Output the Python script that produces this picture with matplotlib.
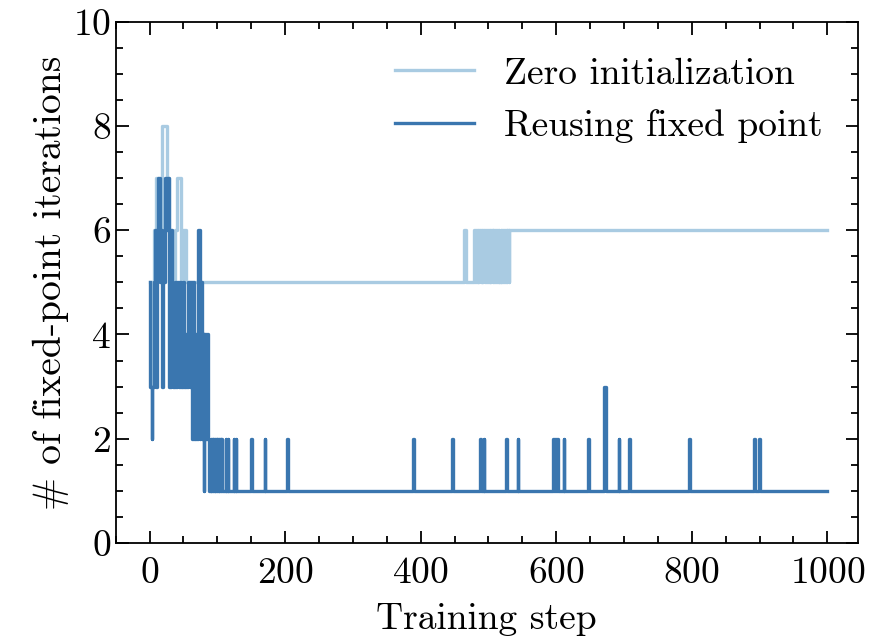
import numpy as np
import matplotlib
matplotlib.use("Agg")
import matplotlib.pyplot as plt
from matplotlib.ticker import MultipleLocator

# === data: (start step, value) runs ===
zero_starts = [0, 2, 4, 6, 9, 13, 19, 25, 28, 33, 38, 41, 46, 50, 54, 62, 64,
               464, 467, 478, 480, 481, 483, 484, 485, 486, 489, 490, 491, 492,
               495, 497, 498, 499, 501, 502, 503, 504, 506, 507, 508, 510, 511,
               512, 514, 515, 516, 518, 519, 520, 522, 523, 524, 526, 527, 528,
               530, 531, 534]
zero_values = [5, 3, 5, 6, 7, 6, 8, 7, 6, 5, 6, 7, 5, 6, 5, 4, 5,
               6, 5, 6, 5, 6, 5, 6, 5, 6, 5, 6, 5, 6,
               5, 6, 5, 6, 5, 6, 5, 6, 5, 6, 5, 6, 5,
               6, 5, 6, 5, 6, 5, 6, 5, 6, 5, 6, 5, 6,
               5, 6, 6]

reuse_starts = [0, 1, 3, 4, 6, 8, 10, 11, 13, 15, 17, 19, 20, 22, 24, 26, 28,
                29, 31, 33, 35, 37, 39, 41, 43, 45, 47, 49, 51, 53, 55, 57, 59,
                61, 62, 64, 66, 68, 70, 72, 74, 75, 77, 78, 80, 81, 83, 85, 86,
                88, 90, 91, 92, 93, 94, 95, 96, 97, 98, 99, 100, 101, 102, 103,
                104, 105, 106, 107, 112, 113, 115, 116, 124, 125, 127, 128,
                150, 151, 170, 171, 203, 204, 389, 390, 446, 447, 488, 489,
                493, 494, 526, 527, 543, 544, 595, 596, 598, 599, 601, 602,
                611, 612, 647, 648, 670, 671, 673, 674, 692, 693, 708, 709,
                796, 797, 892, 893, 899, 900]
reuse_values = [5, 3, 2, 3, 5, 6, 3, 6, 7, 5, 6, 3, 5, 7, 6, 7, 5,
                3, 6, 4, 3, 5, 3, 5, 3, 5, 3, 5, 3, 4, 3, 5, 3,
                5, 2, 5, 2, 4, 2, 6, 2, 5, 2, 4, 1, 4, 2, 4, 2,
                1, 2, 1, 2, 1, 2, 1, 2, 1, 2, 1, 2, 1, 2, 1,
                2, 1, 2, 1, 2, 1, 2, 1, 2, 1, 2, 1,
                2, 1, 2, 1, 2, 1, 2, 1, 2, 1, 2, 1,
                2, 1, 2, 1, 2, 1, 2, 1, 2, 1, 2, 1,
                2, 1, 2, 1, 2, 3, 2, 1, 2, 1, 2, 1,
                2, 1, 2, 1, 2, 1]

last_step = 1000

# === style ===
plt.rcParams["font.family"] = "serif"
plt.rcParams["font.serif"] = ["cmr10"]
plt.rcParams["mathtext.fontset"] = "cm"
plt.rcParams["axes.formatter.use_mathtext"] = True
plt.rcParams["font.size"] = 27

fig = plt.figure(figsize=(8.7, 6.38), dpi=100)
ax = fig.add_axes([0.133, 0.149, 0.853, 0.817])

ax.plot(zero_starts + [last_step], zero_values + [zero_values[-1]],
        drawstyle="steps-post", color="#a9cbe2", lw=2.4, label="Zero initialization")
ax.plot(reuse_starts + [last_step], reuse_values + [reuse_values[-1]],
        drawstyle="steps-post", color="#3a76af", lw=2.4, label="Reusing fixed point")

ax.set_xlim(-50, 1045)
ax.set_ylim(0, 10)
ax.xaxis.set_major_locator(MultipleLocator(200))
ax.xaxis.set_minor_locator(MultipleLocator(50))
ax.yaxis.set_major_locator(MultipleLocator(2))
ax.yaxis.set_minor_locator(MultipleLocator(0.5))
ax.tick_params(which="both", direction="in", top=True, right=True, width=1.3)
ax.tick_params(which="major", length=9)
ax.tick_params(which="minor", length=5)
ax.tick_params(axis="x", pad=10)
for s in ax.spines.values():
    s.set_linewidth(1.3)

ax.set_xlabel("Training step", labelpad=9)
ax.set_ylabel("# of fixed-point iterations", labelpad=3, fontsize=28.5)
ax.legend(loc="upper right", frameon=False, handlelength=2.1,
          handletextpad=0.8, labelspacing=0.5, fontsize=27,
          borderaxespad=0.55)

fig.savefig("out.png", dpi=100)
